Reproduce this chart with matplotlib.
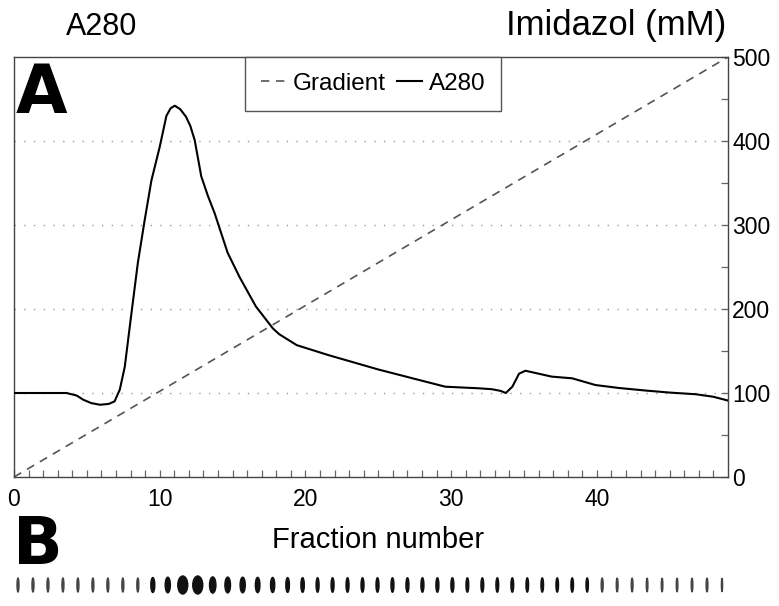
import numpy as np
import matplotlib
matplotlib.use("Agg")
import matplotlib.pyplot as plt
from matplotlib.patches import Ellipse

plt.rcParams["font.family"] = ["Liberation Sans", "DejaVu Sans"]

# --- data ---
fraction = [0, 2, 3.6, 4.3, 4.75, 5.3, 5.9, 6.5, 6.9, 7.26, 7.6, 8.06, 8.5,
            8.97, 9.43, 10, 10.46, 10.75, 11.03, 11.4, 11.8, 12.1, 12.4, 12.6,
            12.85, 13.3, 13.77, 14.66, 15.48, 16.6, 17.76, 18.2, 19.4, 21.6,
            22.8, 25, 27.35, 29.6, 31.9, 32.8, 33.4, 33.75, 34.2, 34.66, 35.1,
            36.0, 36.9, 38.3, 39.9, 41.5, 43.3, 45, 46.8, 48, 49]
a280 = [100, 100, 100, 97, 92, 88, 86, 87, 90, 104, 131, 195, 255,
        306, 353, 393, 430, 439, 442, 438, 429, 418, 401, 382,
        358, 335, 314, 267, 238, 203, 177, 170, 157, 145,
        139, 128, 117.5, 107.5, 105.6, 104.5, 102.5, 100, 107.5, 123, 126.5,
        123, 119.5, 117.5, 109.5, 106, 103, 100.5, 98.5, 95.5, 91]

grad_fraction = [0, 49]
grad_mM = [0, 500]

# panel B: gel lanes 1..48, relative band intensity
lanes = list(range(1, 49))
band = [1.0] * 9 + [2.0, 2.6, 5.0, 5.0, 3.2, 2.8, 2.6, 2.3, 2.1, 1.8, 1.7,
                    1.5, 1.5, 1.5, 1.5, 1.5, 1.5,
                    1.5, 1.5, 1.5, 1.5, 1.4, 1.4, 1.4, 1.4, 1.3, 1.3, 1.3, 1.3,
                    1.2,
                    1.0, 0.9, 0.9, 0.8, 0.8, 0.8, 0.8, 0.9, 0.6]

W, H = 779, 606
fig = plt.figure(figsize=(W / 100, H / 100), dpi=100)

# --- panel A ---
ax = fig.add_axes([14 / W, 1 - 477 / H, (728 - 14) / W, (477 - 57) / H])
for y in [100, 200, 300, 400]:
    ax.axhline(y, color="#999999", lw=1.0, ls=(0, (1, 6)), zorder=1)

ax.plot(grad_fraction, grad_mM, color="#555555", lw=1.2, ls=(0, (5, 4)),
        label="Gradient", zorder=2)
ax.plot(fraction, a280, color="black", lw=1.5, label="A280", zorder=3)

ax.set_xlim(0, 49)
ax.set_ylim(0, 500)
ax.yaxis.tick_right()
ax.set_yticks(range(0, 501, 100))
ax.set_yticks(range(50, 500, 100), minor=True)
ax.set_xticks(range(0, 41, 10))
ax.set_xticks(range(0, 49), minor=True)
ax.tick_params(axis="both", which="both", direction="in", length=5,
               width=0.9, color="#666666", labelsize=16.5)
ax.tick_params(axis="x", pad=8)
ax.tick_params(axis="y", pad=3)
for s in ax.spines.values():
    s.set_color("#444444")
    s.set_linewidth(1.0)

leg = ax.legend(loc="upper center", bbox_to_anchor=(0.503, 1.0), ncol=2,
                fontsize=17.5, handlelength=1.0, handletextpad=0.3,
                columnspacing=0.5, borderpad=0.65, fancybox=False,
                framealpha=1, borderaxespad=0)
leg.get_frame().set_edgecolor("#555555")
leg.get_frame().set_linewidth(1.0)

fig.text(102 / W, 1 - 35 / H, "A280", ha="center", va="baseline", fontsize=22)
fig.text(726 / W, 1 - 35 / H, "Imidazol (mM)", ha="right", va="baseline",
         fontsize=25)
fig.text(378 / W, 1 - 548 / H, "Fraction number", ha="center",
         va="baseline", fontsize=21)
fig.text(16 / W, 1 - 113 / H, "A", ha="left", va="baseline", fontsize=48,
         fontweight="bold", family="DejaVu Sans")
fig.text(13 / W, 1 - 564 / H, "B", ha="left", va="baseline", fontsize=47,
         fontweight="bold", family="DejaVu Sans")

# --- panel B: gel strip ---
axb = fig.add_axes([18 / W, 1 - 600 / H, (722 - 18) / W, 30 / H])
axb.set_xlim(1, 48)
axb.set_ylim(0, 1)
axb.axis("off")
px_per_lane = (722 - 18) / 47
for ln, b in zip(lanes, band):
    w = 2.0 * b / px_per_lane
    h = (14 + 1.0 * (b - 1)) / 30
    col = "#111111" if b >= 1.2 else "#444444"
    axb.add_patch(Ellipse((ln, 0.5), w, h, color=col, clip_on=False))

fig.savefig("out.png", dpi=100)
